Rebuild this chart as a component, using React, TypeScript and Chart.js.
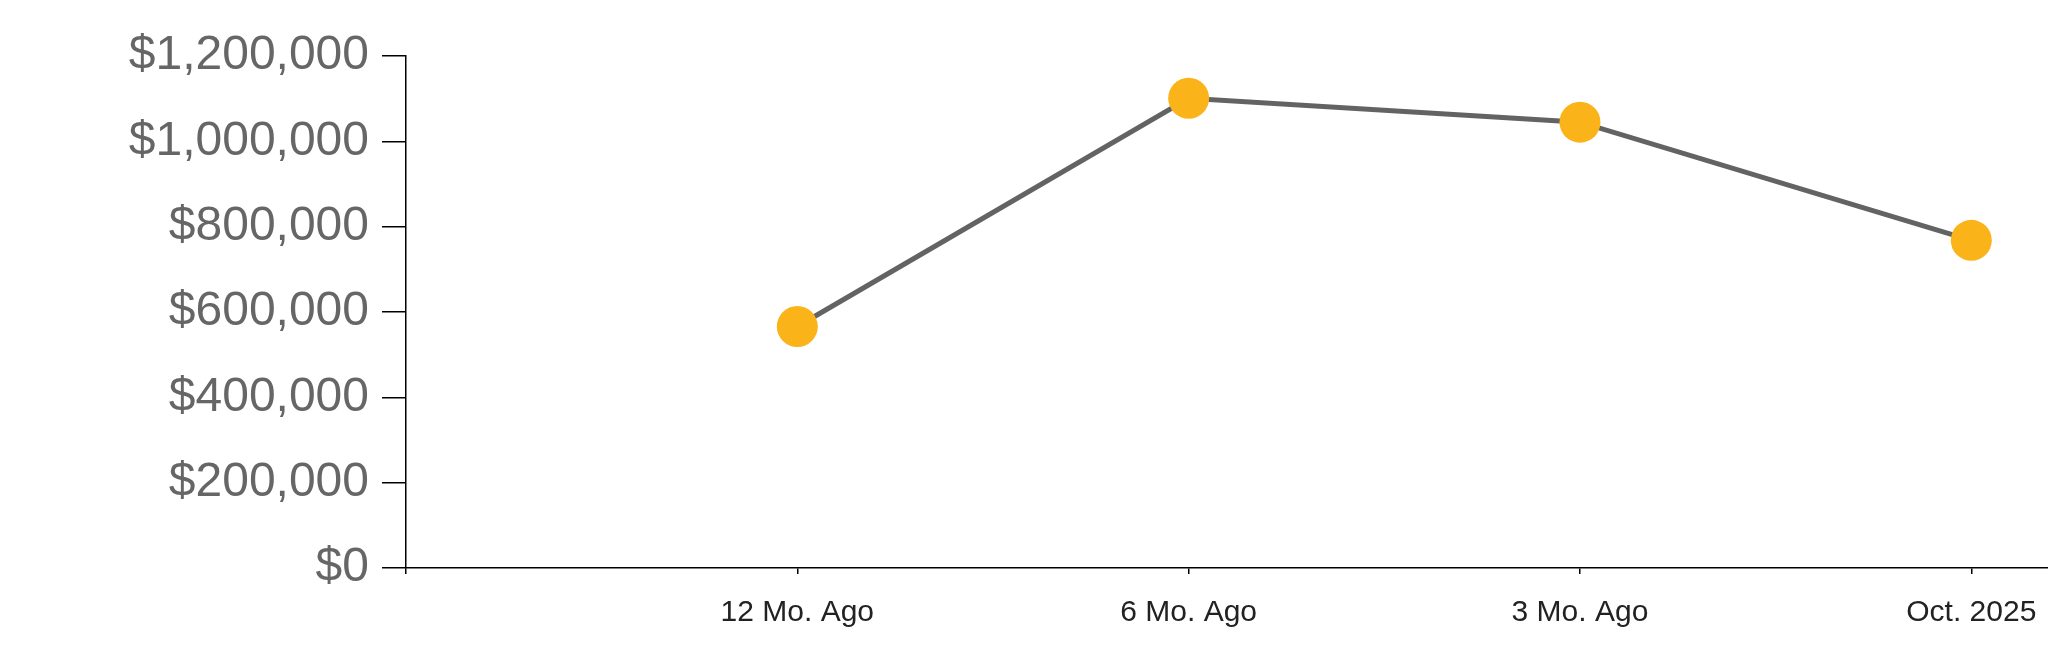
import React, { useEffect, useRef } from "react";
import { Chart, registerables } from "chart.js";

Chart.register(...registerables);

const categories: string[] = ["12 Mo. Ago", "6 Mo. Ago", "3 Mo. Ago", "Oct. 2025"];
const values: number[] = [566000, 1101000, 1045000, 768000];
const yTicks: number[] = [0, 200000, 400000, 600000, 800000, 1000000, 1200000];

const fmt = (v: number) => "$" + Math.round(v).toLocaleString("en-US");

export default function App() {
  const ref = useRef<HTMLCanvasElement | null>(null);

  useEffect(() => {
    if (!ref.current) return;
    const chart = new Chart(ref.current, {
      type: "line",
      data: {
        datasets: [
          {
            data: values.map((v, i) => ({ x: i + 1, y: v })),
            borderColor: "#636363",
            borderWidth: 5,
            pointRadius: 20.5,
            pointHoverRadius: 20.5,
            pointBackgroundColor: "#FBB31A",
            pointBorderColor: "#FBB31A",
            pointBorderWidth: 0,
            tension: 0,
            clip: false,
          },
        ],
      },
      options: {
        animation: false,
        responsive: true,
        maintainAspectRatio: false,
        layout: { autoPadding: false, padding: { top: 56, right: 0, left: 0, bottom: 0 } },
        plugins: { legend: { display: false }, tooltip: { enabled: false } },
        scales: {
          x: {
            type: "linear",
            min: 0,
            max: 4.196,
            afterFit: (s: any) => {
              s.height = 95;
              s.paddingLeft = 0;
              s.paddingRight = 0;
            },
            border: { display: true, color: "#000", width: 1.5 },
            grid: { drawOnChartArea: false, drawTicks: true, tickLength: 6, color: "#000", lineWidth: 1.5 },
            ticks: {
              stepSize: 1,
              includeBounds: false,
              autoSkip: false,
              maxRotation: 0,
              padding: 21,
              color: "#222",
              font: { family: "'Liberation Sans', Arial, sans-serif", size: 30 },
              callback: (v: any) => {
                const i = Math.round(Number(v)) - 1;
                return categories[i] ?? "";
              },
            },
          },
          y: {
            min: 0,
            max: 1200000,
            afterFit: (s: any) => {
              s.width = 406;
              s.paddingTop = 0;
              s.paddingBottom = 0;
            },
            afterBuildTicks: (s: any) => {
              s.ticks = yTicks.map((v) => ({ value: v }));
            },
            border: { display: true, color: "#000", width: 1.5 },
            grid: { drawOnChartArea: false, drawTicks: true, tickLength: 24, color: "#000", lineWidth: 1.5 },
            ticks: {
              padding: 13,
              color: "#666",
              font: { family: "'Liberation Sans', Arial, sans-serif", size: 48 },
              callback: (v: any) => fmt(Number(v)),
            },
          },
        },
      },
    });
    return () => chart.destroy();
  }, []);

  return (
    <div style={{ position: "fixed", left: 0, top: 0, width: 2048, height: 663, background: "#fff" }}>
      <canvas ref={ref} />
    </div>
  );
}
